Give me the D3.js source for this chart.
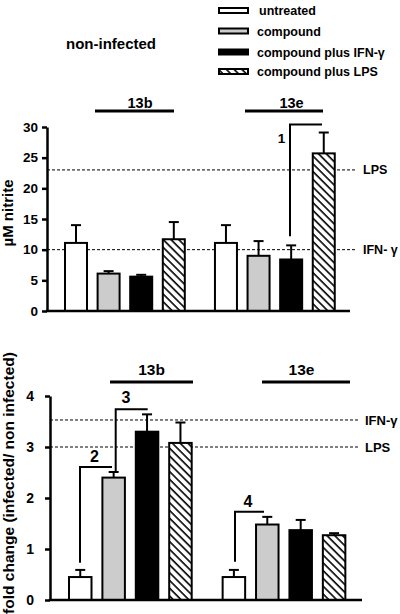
<!DOCTYPE html>
<html>
<head>
<meta charset="utf-8">
<script src="https://cdn.jsdelivr.net/npm/d3@7"></script>
<style>
  html, body { margin: 0; padding: 0; background: #fff; }
  svg { display: block; font-family: "Liberation Sans", Arial, Helvetica, sans-serif; font-weight: bold; }
</style>
</head>
<body>
<svg id="chart" width="400" height="614"></svg>
<script>
// ---------- data ----------
const categories = ["untreated", "compound", "compound plus IFN-\u03b3", "compound plus LPS"];
const groups = ["13b", "13e"];

// non-infected: µM nitrite (mean, sem)
const topMean13b = [11.1, 6.1, 5.6, 11.7];
const topSem13b  = [2.9, 0.4, 0.3, 2.8];
const topMean13e = [11.1, 9.0, 8.4, 25.7];
const topSem13e  = [2.9, 2.4, 2.3, 3.4];
const topTicks = [0, 5, 10, 15, 20, 25, 30];
const topRefNames = ["LPS", "IFN- \u03b3"];
const topRefValues = [23, 10];

// fold change (infected / non infected)
const botMean13b = [0.45, 2.40, 3.30, 3.08];
const botSem13b  = [0.14, 0.11, 0.34, 0.40];
const botMean13e = [0.45, 1.48, 1.37, 1.27];
const botSem13e  = [0.14, 0.15, 0.20, 0.04];
const botTicks = [0, 1, 2, 3, 4];
const botRefNames = ["IFN-\u03b3", "LPS"];
const botRefValues = [3.53, 3.0];

// significance brackets: [group, fromBar, toBar, lowValue, highValue, label]
const topBrackets = [[1, 2, 3, 12.2, 30.4, "1"]];
const botBrackets = [[0, 0, 1, 0.73, 2.61, "2"], [0, 1, 2, 2.49, 3.74, "3"], [1, 0, 1, 0.75, 1.73, "4"]];

// ---------- drawing ----------
const svg = d3.select("#chart");
const fills = ["#ffffff", "#cccccc", "#000000", "url(#hatch)"];

const defs = svg.append("defs");
const pat = defs.append("pattern").attr("id", "hatch")
  .attr("patternUnits", "userSpaceOnUse").attr("width", 5.5).attr("height", 5.5)
  .attr("patternTransform", "rotate(-45)");
pat.append("rect").attr("width", 5.5).attr("height", 5.5).attr("fill", "#fff");
pat.append("line").attr("x1", 1).attr("y1", 0).attr("x2", 1).attr("y2", 5.5)
  .attr("stroke", "#000").attr("stroke-width", 1.6);

// Legend
const legend = svg.append("g");
const legendY = [10.5, 31, 52, 71.5];
categories.forEach((c, i) => {
  legend.append("rect").attr("x", 219).attr("y", legendY[i] - 2.5).attr("width", 29).attr("height", 5)
    .attr("fill", fills[i]).attr("stroke", "#000").attr("stroke-width", 2);
  legend.append("text").attr("x", i === 0 ? 259 : 257).attr("y", legendY[i]).attr("dy", "0.36em")
    .attr("font-size", 12.5).text(c);
});

svg.append("text").attr("x", 66).attr("y", 49).attr("font-size", 15).text("non-infected");

function panel(cfg) {
  const g = svg.append("g");
  const y = d3.scaleLinear().domain(cfg.domain).range([cfg.y0, cfg.y1]);
  const x = d3.scaleLinear().domain([0, 8.6]).range([cfg.xStart, cfg.xStart + 8.6 * cfg.pitch]);
  const pos = (gi, bi) => gi * 4.6 + bi;
  const cx = (gi, bi) => x(pos(gi, bi)) + cfg.barW / 2;

  // reference lines
  cfg.refValues.forEach((v, i) => {
    g.append("line").attr("x1", cfg.axisX).attr("x2", cfg.refEnd).attr("y1", y(v)).attr("y2", y(v))
      .attr("stroke", "#000").attr("stroke-width", 1).attr("stroke-dasharray", "3,2");
    g.append("text").attr("x", cfg.refLabelX).attr("y", y(v)).attr("dy", "0.36em")
      .attr("font-size", cfg.refFont).text(cfg.refNames[i]);
  });

  // bars
  cfg.means.forEach((arr, gi) => {
    arr.forEach((m, bi) => {
      const bx = x(pos(gi, bi));
      const top = y(m + cfg.sems[gi][bi]);
      g.append("line").attr("x1", bx + cfg.barW / 2).attr("x2", bx + cfg.barW / 2)
        .attr("y1", y(m)).attr("y2", top).attr("stroke", "#000").attr("stroke-width", 2);
      g.append("line").attr("x1", bx + cfg.barW / 2 - 5).attr("x2", bx + cfg.barW / 2 + 5)
        .attr("y1", top).attr("y2", top).attr("stroke", "#000").attr("stroke-width", 2);
      g.append("rect").attr("x", bx).attr("y", y(m)).attr("width", cfg.barW).attr("height", y(0) - y(m))
        .attr("fill", fills[bi]).attr("stroke", "#000").attr("stroke-width", 2);
    });
  });

  // axes
  const ax = d3.axisLeft(y).tickValues(cfg.ticks).tickFormat(d3.format("d"))
    .tickSize(5).tickSizeOuter(0).tickPadding(cfg.tickPad);
  const axG = g.append("g").attr("transform", `translate(${cfg.axisX},0)`).call(ax);
  axG.select(".domain").attr("stroke-width", 2.5);
  axG.selectAll(".tick line").attr("stroke-width", 2.5);
  axG.selectAll(".tick text").attr("font-size", cfg.tickFont).attr("font-family", "Liberation Sans, Arial, sans-serif").attr("font-weight", "bold");
  g.append("line").attr("x1", cfg.axisX - 1.2).attr("x2", cfg.xAxisEnd).attr("y1", y(0)).attr("y2", y(0))
    .attr("stroke", "#000").attr("stroke-width", 2.5);

  // group labels
  groups.forEach((gn, gi) => {
    const [a, b] = cfg.groupLine[gi];
    g.append("line").attr("x1", a).attr("x2", b).attr("y1", cfg.groupLineY).attr("y2", cfg.groupLineY)
      .attr("stroke", "#000").attr("stroke-width", 3);
    g.append("text").attr("x", cfg.groupLabelX[gi]).attr("y", cfg.groupLabelY).attr("text-anchor", "middle")
      .attr("font-size", cfg.groupFont).text(gn);
  });

  // brackets
  cfg.brackets.forEach(([gi, b1, b2, lo, hi, lab], k) => {
    const xa = cfg.bracketX ? cfg.bracketX[k][0] : cx(gi, b1);
    const xb = cfg.bracketX ? cfg.bracketX[k][1] : cx(gi, b2);
    g.append("path").attr("d", `M${xa},${y(lo)}V${y(hi)}H${xb}`)
      .attr("fill", "none").attr("stroke", "#000").attr("stroke-width", 2);
    const lp = cfg.bracketLabel[k];
    g.append("text").attr("x", lp[0]).attr("y", lp[1]).attr("dy", "0.36em").attr("text-anchor", "middle")
      .attr("font-size", cfg.bracketFont).text(lab);
  });

  // y label
  g.append("text").attr("transform", `translate(${cfg.yLabel[0]},${cfg.yLabel[1]}) rotate(-90)`)
    .attr("text-anchor", "middle").attr("font-size", cfg.yLabelFont).text(cfg.yTitle);
}

panel({
  domain: [0, 30], y0: 311, y1: 127, xStart: 65, pitch: 32.6, barW: 22,
  axisX: 47, xAxisEnd: 350, refEnd: 357, refLabelX: 363, refFont: 12.5,
  refValues: topRefValues, refNames: topRefNames,
  means: [topMean13b, topMean13e], sems: [topSem13b, topSem13e],
  ticks: topTicks, tickPad: 4, tickFont: 13.5,
  groupLine: [[95, 174], [245, 323]], groupLineY: 111, groupLabelX: [140, 291.5], groupLabelY: 108, groupFont: 14.5,
  brackets: topBrackets, bracketX: [[290, 322]], bracketLabel: [[281.5, 138]], bracketFont: 13.5,
  yLabel: [13, 213], yLabelFont: 15, yTitle: "\u00b5M nitrite"
});

panel({
  domain: [0, 4], y0: 600, y1: 396, xStart: 69, pitch: 33.4, barW: 22.5,
  axisX: 50, xAxisEnd: 362, refEnd: 358, refLabelX: 365, refFont: 13,
  refValues: botRefValues, refNames: botRefNames,
  means: [botMean13b, botMean13e], sems: [botSem13b, botSem13e],
  ticks: botTicks, tickPad: 11, tickFont: 14,
  groupLine: [[110, 193], [262, 350]], groupLineY: 382, groupLabelX: [151.5, 301.5], groupLabelY: 375, groupFont: 15.5,
  brackets: botBrackets, bracketX: [[80, 112], [115.7, 147.7], [235, 264]],
  bracketLabel: [[94.5, 456], [126, 397.5], [248, 501]], bracketFont: 16,
  yLabel: [14, 483], yLabelFont: 15.5, yTitle: "fold change (infected/ non infected)"
});
</script>
</body>
</html>
